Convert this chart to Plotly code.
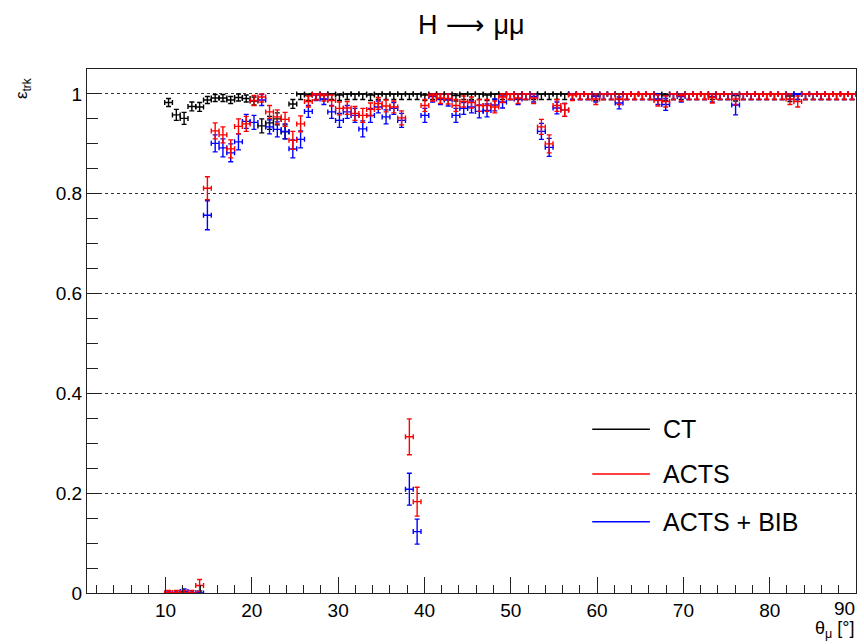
import numpy as np
import plotly.graph_objects as go

# ---- binning (theta_mu in degrees) ----
bin_lo, bin_hi, n_bins = 0.9, 90.0, 99
first_bin = 10  # first filled bin
bin_width = (bin_hi - bin_lo) / n_bins
theta = bin_lo + bin_width * (np.arange(first_bin, n_bins) + 0.5)

x_tick_vals = [10, 20, 30, 40, 50, 60, 70, 80, 90]
x_tick_text = ["10", "20", "30", "40", "50", "60", "70", "80", "90"]

# ---- efficiencies (bins 10..98) ----
eff_ct = [
    0.983, 0.958, 0.951, 0.975, 0.974, 0.988, 0.992, 0.992, 0.988, 0.993,
    0.991, 0.986, 0.936, 0.942, 0.950, 0.924, 0.980, 1.000, 0.998, 1.000,
    1.000, 1.000, 0.998, 1.000, 1.000, 1.000, 0.998, 1.000, 1.000, 1.000,
    1.000, 1.000, 1.000, 0.998, 1.000, 1.000, 1.000, 0.997, 1.000, 1.000,
    1.000, 0.998, 1.000, 1.000, 1.000, 1.000, 1.000, 1.000, 1.000, 1.000,
    1.000, 1.000, 1.000, 1.000, 1.000, 0.998, 1.000, 1.000, 1.000, 1.000,
    1.000, 1.000, 1.000, 1.000, 0.998, 1.000, 1.000, 1.000, 1.000, 1.000,
    1.000, 1.000, 1.000, 0.997, 1.000, 1.000, 1.000, 1.000, 1.000, 1.000,
    0.996, 1.000, 1.000, 1.000, 1.000, 1.000, 1.000, 1.000, 1.000,
]
err_ct = [
    0.008, 0.011, 0.012, 0.009, 0.009, 0.007, 0.007, 0.007, 0.007, 0.007,
    0.007, 0.008, 0.014, 0.013, 0.012, 0.014, 0.009, 0.011, 0.011, 0.011,
    0.011, 0.011, 0.011, 0.011, 0.011, 0.011, 0.011, 0.011, 0.011, 0.011,
    0.011, 0.011, 0.011, 0.011, 0.011, 0.011, 0.011, 0.011, 0.011, 0.011,
    0.011, 0.011, 0.011, 0.011, 0.011, 0.011, 0.011, 0.011, 0.011, 0.011,
    0.011, 0.011, 0.011, 0.011, 0.011, 0.011, 0.011, 0.011, 0.011, 0.011,
    0.011, 0.011, 0.011, 0.011, 0.011, 0.011, 0.011, 0.011, 0.011, 0.011,
    0.011, 0.011, 0.011, 0.011, 0.011, 0.011, 0.011, 0.011, 0.011, 0.011,
    0.011, 0.011, 0.011, 0.011, 0.011, 0.011, 0.011, 0.011, 0.011,
]

eff_acts = [
    0.000, 0.000, 0.000, 0.000, 0.015, 0.811, 0.926, 0.918, 0.890, 0.935,
    0.940, 0.987, 0.994, 0.964, 0.954, 0.949, 0.907, 0.940, 0.985, 0.999,
    0.997, 0.987, 0.971, 0.972, 0.961, 0.957, 0.969, 0.981, 0.976, 0.974,
    0.952, 0.313, 0.183, 0.977, 0.997, 0.992, 0.991, 0.977, 0.985, 0.983,
    0.977, 0.977, 0.974, 0.994, 1.000, 0.992, 1.000, 0.992, 0.934, 0.900,
    0.977, 0.968, 0.998, 1.000, 1.000, 0.990, 1.000, 1.000, 0.990, 1.000,
    1.000, 1.000, 1.000, 0.987, 0.985, 1.000, 0.997, 1.000, 1.000, 1.000,
    0.993, 1.000, 1.000, 0.990, 1.000, 1.000, 1.000, 1.000, 1.000, 1.000,
    0.990, 0.985, 1.000, 1.000, 1.000, 1.000, 1.000, 1.000, 1.000,
]
err_acts = [
    0.005, 0.005, 0.005, 0.005, 0.012, 0.023, 0.016, 0.016, 0.018, 0.015,
    0.015, 0.010, 0.010, 0.013, 0.014, 0.014, 0.018, 0.016, 0.011, 0.011,
    0.011, 0.011, 0.013, 0.013, 0.014, 0.014, 0.013, 0.012, 0.012, 0.012,
    0.014, 0.036, 0.029, 0.012, 0.011, 0.011, 0.011, 0.012, 0.011, 0.011,
    0.012, 0.012, 0.012, 0.011, 0.011, 0.011, 0.011, 0.011, 0.015, 0.018,
    0.012, 0.013, 0.011, 0.011, 0.011, 0.011, 0.011, 0.011, 0.011, 0.011,
    0.011, 0.011, 0.011, 0.011, 0.011, 0.011, 0.011, 0.011, 0.011, 0.011,
    0.011, 0.011, 0.011, 0.011, 0.011, 0.011, 0.011, 0.011, 0.011, 0.011,
    0.011, 0.011, 0.011, 0.011, 0.011, 0.011, 0.011, 0.011, 0.011,
]

eff_bib = [
    0.000, 0.000, 0.003, 0.000, 0.000, 0.757, 0.901, 0.892, 0.882, 0.904,
    0.945, 0.943, 0.988, 0.934, 0.929, 0.925, 0.890, 0.909, 0.965, 0.998,
    0.990, 0.964, 0.947, 0.964, 0.957, 0.930, 0.957, 0.974, 0.954, 0.971,
    0.947, 0.208, 0.123, 0.957, 0.995, 0.990, 0.988, 0.957, 0.971, 0.974,
    0.965, 0.967, 0.978, 0.984, 1.000, 0.990, 1.000, 0.995, 0.925, 0.893,
    0.972, 0.968, 1.000, 1.000, 1.000, 0.995, 1.000, 1.000, 0.982, 1.000,
    1.000, 1.000, 1.000, 0.990, 0.979, 1.000, 0.995, 1.000, 1.000, 1.000,
    0.995, 1.000, 1.000, 0.978, 1.000, 1.000, 1.000, 1.000, 1.000, 1.000,
    1.000, 1.000, 1.000, 1.000, 1.000, 1.000, 1.000, 1.000, 1.000,
]
err_bib = [
    0.004, 0.004, 0.005, 0.004, 0.004, 0.029, 0.017, 0.018, 0.018, 0.016,
    0.014, 0.014, 0.011, 0.014, 0.015, 0.015, 0.018, 0.017, 0.012, 0.011,
    0.011, 0.013, 0.014, 0.013, 0.014, 0.016, 0.014, 0.012, 0.014, 0.012,
    0.014, 0.032, 0.025, 0.014, 0.011, 0.011, 0.012, 0.014, 0.012, 0.012,
    0.013, 0.013, 0.012, 0.012, 0.011, 0.011, 0.011, 0.011, 0.016, 0.018,
    0.012, 0.013, 0.011, 0.011, 0.011, 0.011, 0.011, 0.011, 0.012, 0.011,
    0.011, 0.011, 0.011, 0.011, 0.012, 0.011, 0.011, 0.011, 0.011, 0.011,
    0.011, 0.011, 0.011, 0.020, 0.011, 0.011, 0.011, 0.011, 0.011, 0.011,
    0.011, 0.011, 0.011, 0.011, 0.011, 0.011, 0.011, 0.011, 0.011,
]

series = [
    ("CT", eff_ct, err_ct, "#000000"),
    ("ACTS + BIB", eff_bib, err_bib, "#0000ff"),
    ("ACTS", eff_acts, err_acts, "#ff0000"),
]
legend_order = [("CT", "#000000"), ("ACTS", "#ff0000"), ("ACTS + BIB", "#0000ff")]

FONT = "Liberation Sans, Arial, Helvetica, sans-serif"

fig = go.Figure()
for name, eff, err, col in series:
    y = np.array(eff)
    e = np.array(err)
    assert len(y) == len(theta) == len(e)
    hi = np.minimum(e, 1.0 - y)
    lo = np.minimum(e, y)
    fig.add_trace(go.Scatter(
        x=theta, y=y, mode="markers", name=name,
        marker=dict(size=2, color=col, opacity=0),
        error_x=dict(type="constant", value=bin_width / 2, color=col,
                     thickness=1.4, width=2.5),
        error_y=dict(type="data", symmetric=False, array=hi, arrayminus=lo,
                     color=col, thickness=1.4, width=2.5),
        showlegend=False,
    ))

fig.update_layout(
    width=864, height=644,
    margin=dict(l=87, r=8, t=69, b=51),
    plot_bgcolor="white", paper_bgcolor="white",
    font=dict(family=FONT, color="black", size=19),
    showlegend=False,
)
# last x label ("90") is drawn separately, shifted left to fit like ROOT does
fig.update_xaxes(
    range=[bin_lo, bin_hi], showline=True, linecolor="#222", linewidth=1,
    mirror=True, ticks="inside", ticklen=16, tickwidth=1, tickcolor="#222",
    tickmode="array", tickvals=x_tick_vals,
    ticktext=x_tick_text[:-1] + [""], showgrid=False, zeroline=False,
    tickfont=dict(size=19, family=FONT),
    minor=dict(ticks="inside", ticklen=8, tick0=0, dtick=2, tickcolor="#222",
               showgrid=False),
)
fig.update_yaxes(
    range=[0, 1.05], showline=True, linecolor="#222", linewidth=1,
    mirror=True, ticks="inside", ticklen=14, tickwidth=1, tickcolor="#222",
    tick0=0, dtick=0.2, showgrid=True, gridcolor="#333", griddash="dot",
    gridwidth=1, zeroline=False, tickfont=dict(size=19, family=FONT),
    minor=dict(ticks="inside", ticklen=11, tick0=0, dtick=0.05,
               tickcolor="#222", showgrid=False),
)
fig.add_annotation(text=x_tick_text[-1], xref="x", yref="paper",
                   x=x_tick_vals[-1], y=0, xanchor="right", yanchor="top",
                   yshift=-3, xshift=1, showarrow=False,
                   font=dict(size=19, family=FONT))

# title and axis titles
fig.add_annotation(
    text="H<span style=\"font-family:DejaVu Sans\"> ⟶ </span>μμ",
    xref="paper", yref="paper", x=0.5, y=1.084,
    xanchor="center", yanchor="middle", showarrow=False,
    font=dict(size=27, family=FONT))
fig.add_annotation(text="θ<sub>μ</sub> [°]", xref="paper", yref="paper",
                   x=1.0, y=-0.07, xanchor="right", yanchor="middle",
                   showarrow=False, font=dict(size=18, family=FONT))
fig.add_annotation(text="ε<sub>trk</sub>", xref="paper", yref="paper",
                   x=-0.083, y=0.962, xanchor="center", yanchor="middle",
                   textangle=-90, showarrow=False, font=dict(size=17, family=FONT))

# legend (drawn manually)
leg_y = [0.3124, 0.2271, 0.1361]
for (name, col), yy in zip(legend_order, leg_y):
    fig.add_shape(type="line", xref="paper", yref="paper", x0=0.657, x1=0.732,
                  y0=yy, y1=yy, line=dict(color=col, width=1.4))
    fig.add_annotation(text=name, xref="paper", yref="paper", x=0.747, y=yy,
                       xanchor="left", yanchor="middle", showarrow=False,
                       font=dict(size=25, family=FONT))

fig.write_html("out.html")
